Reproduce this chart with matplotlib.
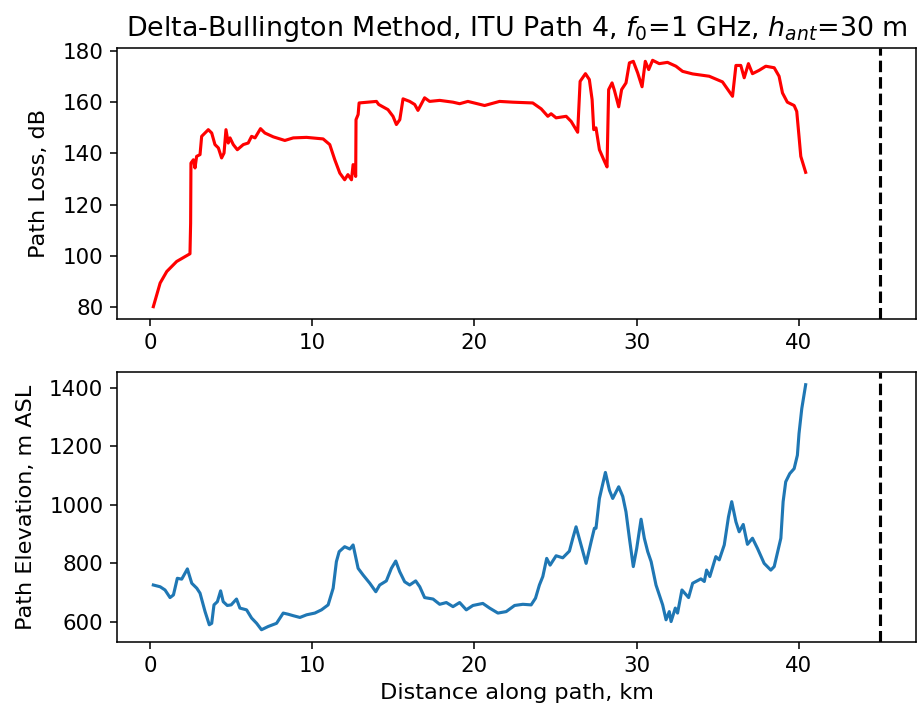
import numpy as np
import matplotlib
matplotlib.use("Agg")
import matplotlib.pyplot as plt

# path loss along the path (km, dB)
loss_km = [0.2, 0.62, 1.03, 1.64, 2.46, 2.5, 2.52, 2.67, 2.77, 2.87, 3.08, 3.18, 3.59, 3.8,
           4.0, 4.21, 4.41, 4.56, 4.68, 4.82, 4.93, 5.13, 5.38, 5.75, 6.05, 6.26, 6.47,
           6.81, 7.08, 7.6, 8.31, 8.83, 9.65, 10.67, 11.08, 11.39, 11.7, 12.0, 12.2,
           12.42, 12.52, 12.68, 12.7, 12.83, 12.89, 13.96, 14.1, 14.67, 14.98, 15.19,
           15.4, 15.6, 16.01, 16.32, 16.52, 16.93, 17.24, 17.86, 18.68, 19.09, 19.6,
           20.63, 21.55, 22.37, 23.6, 24.12, 24.53, 24.73, 25.04, 25.66, 25.97, 26.37,
           26.52, 26.85, 27.09, 27.26, 27.36, 27.5, 27.71, 28.02, 28.18, 28.28, 28.49,
           28.64, 28.9, 29.08, 29.35, 29.56, 29.8, 30.07, 30.34, 30.54, 30.75, 30.99,
           31.4, 31.91, 32.43, 32.84, 33.46, 34.48, 35.3, 35.71, 35.92, 36.13, 36.43,
           36.64, 36.9, 37.15, 37.56, 37.97, 38.49, 38.79, 39.0, 39.3, 39.72, 39.88,
           40.02, 40.13, 40.43]
loss_db = [80.3, 89.5, 94.0, 97.9, 100.9, 112.8, 136.2, 137.5, 134.3, 138.8, 139.5, 146.6,
           149.2, 147.9, 143.4, 142.1, 138.2, 140.1, 149.2, 144.0, 146.0, 143.4, 141.4,
           143.4, 144.0, 146.6, 146.0, 149.6, 147.9, 146.4, 145.0, 146.0, 146.2, 145.6,
           143.4, 137.5, 132.3, 129.7, 131.7, 129.7, 135.6, 131.0, 153.1, 155.1, 159.6,
           160.2, 159.0, 157.0, 154.4, 151.2, 153.1, 161.2, 160.2, 159.0, 156.7, 161.6,
           160.2, 160.6, 159.9, 159.3, 160.2, 158.6, 160.2, 159.9, 159.6, 157.3, 154.4,
           155.4, 153.8, 154.4, 152.4, 148.2, 168.0, 171.0, 168.7, 160.9, 149.2, 149.9,
           141.4, 136.9, 134.7, 164.8, 167.4, 164.4, 158.1, 164.8, 167.4, 175.2, 175.8,
           171.3, 165.9, 175.8, 172.6, 176.2, 174.9, 175.4, 173.9, 171.9, 170.9, 170.0,
           167.8, 164.1, 162.2, 174.2, 174.2, 169.4, 174.9, 171.0, 172.3, 173.9, 173.3,
           170.0, 163.5, 159.9, 158.6, 156.3, 146.6, 138.8, 132.6]

# terrain profile (km, m ASL)
elev_km = [0.2, 0.62, 0.92, 1.23, 1.44, 1.68, 1.95, 2.3, 2.57, 2.88, 3.08, 3.39, 3.65, 3.8,
           3.94, 4.15, 4.35, 4.51, 4.76, 5.0, 5.33, 5.54, 5.95, 6.26, 6.57, 6.87, 7.28,
           7.8, 8.21, 8.52, 8.83, 9.24, 9.65, 10.16, 10.57, 10.98, 11.29, 11.49, 11.66,
           12.0, 12.32, 12.52, 12.83, 13.14, 13.55, 13.92, 14.16, 14.57, 14.88, 15.15,
           15.39, 15.7, 16.01, 16.38, 16.63, 16.93, 17.45, 17.86, 18.27, 18.68, 19.09,
           19.5, 19.91, 20.52, 20.94, 21.45, 21.96, 22.48, 22.99, 23.5, 23.77, 24.01,
           24.22, 24.46, 24.67, 25.04, 25.45, 25.86, 26.07, 26.27, 26.58, 26.89, 27.2,
           27.4, 27.5, 27.71, 28.08, 28.33, 28.53, 28.9, 29.15, 29.35, 29.56, 29.8, 30.01,
           30.28, 30.48, 30.69, 30.9, 31.2, 31.61, 31.82, 32.02, 32.13, 32.39, 32.53,
           32.8, 33.21, 33.46, 33.97, 34.18, 34.32, 34.52, 34.89, 35.1, 35.41, 35.67,
           35.87, 36.13, 36.33, 36.58, 36.84, 37.15, 37.46, 37.87, 38.28, 38.49, 38.75,
           38.9, 39.04, 39.2, 39.45, 39.72, 39.92, 40.02, 40.19, 40.43]
elev_m = [725, 719, 708, 682, 691, 748, 745, 780, 731, 714, 697, 634, 589, 594, 657, 668,
          705, 668, 655, 657, 677, 646, 640, 612, 594, 572, 583, 594, 629, 625, 620, 614,
          623, 629, 640, 657, 714, 805, 839, 856, 848, 862, 782, 759, 731, 702, 725, 739,
          782, 807, 771, 736, 725, 739, 719, 682, 677, 659, 665, 651, 665, 640, 655, 662,
          646, 629, 634, 655, 659, 657, 680, 725, 754, 816, 793, 825, 818, 841, 885, 924,
          862, 799, 873, 919, 919, 1021, 1110, 1049, 1021, 1061, 1028, 975, 885, 788, 850,
          950, 885, 839, 805, 725, 657, 606, 634, 600, 646, 629, 708, 682, 731, 746, 737,
          776, 754, 822, 811, 862, 958, 1010, 941, 907, 932, 864, 885, 850, 799, 776, 788,
          850, 885, 1010, 1078, 1106, 1123, 1169, 1243, 1328, 1410]

d_end = 45.0  # km, end of the path

plt.rcParams["font.size"] = 11
plt.rcParams["axes.labelsize"] = 11.5
plt.rcParams["axes.titlesize"] = 13.8
plt.rcParams["lines.linewidth"] = 1.6

fig = plt.figure(figsize=(917 / 140, 713 / 140), dpi=140)
ax1 = fig.add_axes([0.1276, 0.5526, 0.8714, 0.3801])
ax2 = fig.add_axes([0.1276, 0.0996, 0.8714, 0.3780])

ax1.plot(loss_km, loss_db, color="red")
ax1.axvline(d_end, color="k", linestyle="--")
ax1.set_ylabel("Path Loss, dB", labelpad=7)
ax1.set_title(r"Delta-Bullington Method, ITU Path 4, $f_0$=1 GHz, $h_{ant}$=30 m")

ax2.plot(elev_km, elev_m)
ax2.axvline(d_end, color="k", linestyle="--")
ax2.set_ylabel("Path Elevation, m ASL", labelpad=7)
ax2.set_xlabel("Distance along path, km")

fig.savefig("out.png", dpi=140)
